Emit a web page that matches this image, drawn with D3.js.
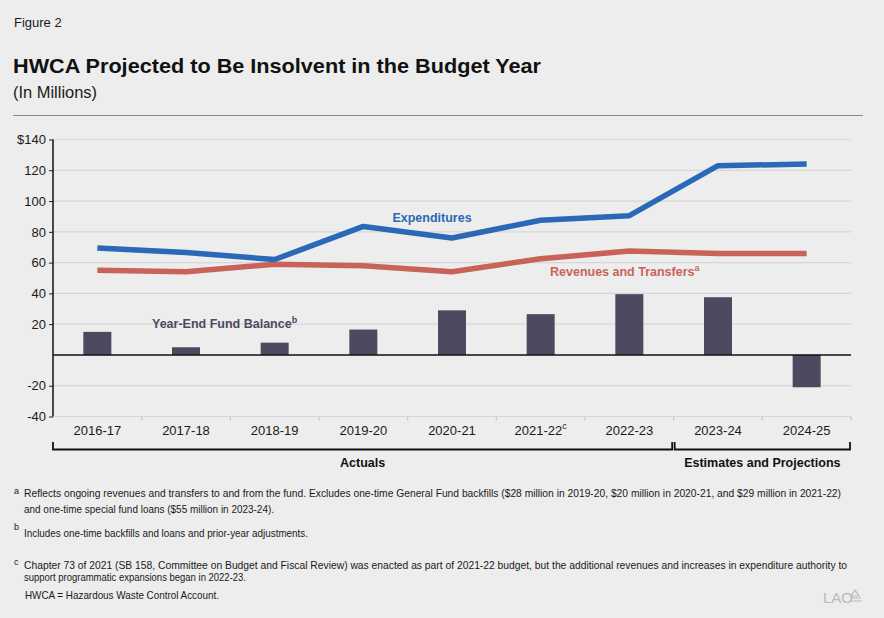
<!DOCTYPE html>
<html><head><meta charset="utf-8">
<script src="https://cdn.jsdelivr.net/npm/d3@7"></script>
<style>
body{margin:0;background:#ecedec}
svg{display:block}
text{font-family:"Liberation Sans",Arial,Helvetica,sans-serif}
</style>
</head><body><svg id="c" width="884" height="618"></svg>
<script>
const categories = ["2016-17","2017-18","2018-19","2019-20","2020-21","2021-22","2022-23","2023-24","2024-25"];
const categorySup = ["","","","","","c","","",""];
const expenditures = [69.5, 66.5, 62, 83.5, 76, 87.5, 90.5, 123, 124];
const revenues = [55, 54, 59, 58, 54, 62.5, 67.5, 66, 66];
const fundBalance = [15, 5, 8, 16.5, 29, 26.5, 39.5, 37.5, -21];
const yTicks = [-40, -20, 0, 20, 40, 60, 80, 100, 120, 140];
const groups = [{label:"Actuals", from:0, to:6}, {label:"Estimates and Projections", from:7, to:8}];

const svg = d3.select("#c");
svg.append("rect").attr("width",884).attr("height",618).attr("fill","#ecedec");

// Header
svg.append("text").attr("x",14).attr("y",27).attr("font-size",13).attr("fill","#1a1a1a").text("Figure 2");
svg.append("text").attr("x",13).attr("y",73).attr("font-size",21).attr("font-weight","bold").attr("fill","#111")
  .attr("textLength",528).attr("lengthAdjust","spacingAndGlyphs")
  .text("HWCA Projected to Be Insolvent in the Budget Year");
svg.append("text").attr("x",13).attr("y",98).attr("font-size",16).attr("fill","#1a1a1a")
  .attr("textLength",84).attr("lengthAdjust","spacingAndGlyphs").text("(In Millions)");
svg.append("line").attr("x1",13).attr("x2",863).attr("y1",115.5).attr("y2",115.5).attr("stroke","#8a8a8a").attr("stroke-width",1);

const x = d3.scaleBand().domain(categories).range([53, 851]).padding(0);
const y = d3.scaleLinear().domain([-40, 140]).range([416.5, 139.5]);

// gridlines
svg.append("g").selectAll("line").data(yTicks.filter(d=>d!==0)).join("line")
  .attr("x1",53).attr("x2",851).attr("y1",d=>y(d)).attr("y2",d=>y(d))
  .attr("stroke","#d6d7d6").attr("stroke-width",1.2);

// y axis
const yAxis = d3.axisLeft(y).tickValues(yTicks.filter(d=>d!==0)).tickSize(4).tickPadding(3)
  .tickFormat(d => d===140 ? "$140" : String(d));
const ya = svg.append("g").attr("transform","translate(53,0)").call(yAxis);
ya.select(".domain").remove();
ya.selectAll(".tick line").attr("stroke","#222");
ya.selectAll(".tick text").attr("font-size",13).attr("fill","#1a1a1a").attr("font-family",'"Liberation Sans",Arial,sans-serif');
svg.append("line").attr("x1",53).attr("x2",53).attr("y1",y(140)).attr("y2",y(-40)).attr("stroke","#111").attr("stroke-width",1.5);

// x axis ticks (gray, at band boundaries)
const xa = svg.append("g");
const bounds = categories.map((c)=>x(c)).concat([x.range()[1]]);
xa.selectAll("line").data(bounds.slice(1)).join("line")
  .attr("x1",d=>d).attr("x2",d=>d).attr("y1",y(-40)).attr("y2",y(-40)+4)
  .attr("stroke","#c8c8c8").attr("stroke-width",1.2);
const xl = xa.selectAll("text.cat").data(categories).join("text").attr("class","cat")
  .attr("x",d=>x(d)+x.bandwidth()/2).attr("y",435).attr("text-anchor","middle")
  .attr("font-size",13).attr("fill","#1a1a1a");
xl.each(function(d,i){
  const t = d3.select(this);
  t.append("tspan").text(d);
  if (categorySup[i]) t.append("tspan").attr("dy",-6).attr("font-size",9).text(categorySup[i]);
});

// bars
const bw = 28;
svg.append("g").selectAll("rect").data(fundBalance).join("rect")
  .attr("x",(d,i)=>x(categories[i])+x.bandwidth()/2-bw/2)
  .attr("width",bw)
  .attr("y",d=>y(Math.max(0,d)))
  .attr("height",d=>Math.abs(y(d)-y(0)))
  .attr("fill","#4b4a5f");

// zero line
svg.append("line").attr("x1",53).attr("x2",851).attr("y1",y(0)).attr("y2",y(0)).attr("stroke","#111").attr("stroke-width",1.6);

// lines
const line = d3.line().x((d,i)=>x(categories[i])+x.bandwidth()/2).y(d=>y(d));
svg.append("path").datum(revenues).attr("d",line).attr("fill","none").attr("stroke","#c9635a").attr("stroke-width",5.5).attr("stroke-linejoin","round");
svg.append("path").datum(expenditures).attr("d",line).attr("fill","none").attr("stroke","#2a68b8").attr("stroke-width",5.5).attr("stroke-linejoin","round");

// series labels
svg.append("text").attr("x",432).attr("y",222).attr("text-anchor","middle").attr("font-size",12.5).attr("font-weight","bold").attr("fill","#2a68b8").text("Expenditures");
const rl = svg.append("text").attr("x",550).attr("y",276).attr("font-size",12.5).attr("font-weight","bold").attr("fill","#c9635a");
rl.append("tspan").text("Revenues and Transfers");
rl.append("tspan").attr("dy",-5).attr("font-size",9).text("a");
const bl = svg.append("text").attr("x",152).attr("y",328).attr("font-size",12.5).attr("font-weight","bold").attr("fill","#4b4a5f");
bl.append("tspan").text("Year-End Fund Balance");
bl.append("tspan").attr("dy",-5).attr("font-size",9).text("b");

// group brackets
const gb = svg.append("g");
groups.forEach((g,gi)=>{
  const x0 = x(categories[g.from]) + (gi===0?0:1);
  const x1 = x(categories[g.to]) + x.bandwidth() - (gi===0?1.5:1);
  gb.append("path").attr("d",`M${x0},442V449.5H${x1}V442`).attr("fill","none").attr("stroke","#111").attr("stroke-width",1.8);
  gb.append("text").attr("x",(x0+x1)/2).attr("y",467).attr("text-anchor","middle").attr("font-size",12.5).attr("font-weight","bold").attr("fill","#111").text(g.label);
});

// footnotes
const fn = svg.append("g").attr("fill","#1a1a1a");
function sup(t, xx, yy){ fn.append("text").attr("x",xx).attr("y",yy).attr("font-size",9).text(t); }
function note(t, xx, yy, len){ const e = fn.append("text").attr("x",xx).attr("y",yy).attr("font-size",10.5).text(t); if(len) e.attr("textLength",len).attr("lengthAdjust","spacingAndGlyphs"); }
sup("a",14,494);
note("Reflects ongoing revenues and transfers to and from the fund. Excludes one-time General Fund backfills ($28 million in 2019-20, $20 million in 2020-21, and $29 million in 2021-22)",24,497,817);
note("and one-time special fund loans ($55 million in 2023-24).",24,513,250);
sup("b",14,530);
note("Includes one-time backfills and loans and prior-year adjustments.",24,537,284);
sup("c",14,565);
note("Chapter 73 of 2021 (SB 158, Committee on Budget and Fiscal Review) was enacted as part of 2021-22 budget, but the additional revenues and increases in expenditure authority to",24,569,823);
note("support programmatic expansions began in 2022-23.",24,581,222);
note("HWCA =  Hazardous Waste Control Account.",25,599,194);

// logo
svg.append("text").attr("x",823).attr("y",603).attr("font-family","'Liberation Serif',serif").attr("font-size",15).attr("fill","#b9bab9").text("LAO");
svg.append("path").attr("d","M855,590 l4,6 h-8 z M850,598 h11 M849,601 h13").attr("fill","none").attr("stroke","#b9bab9").attr("stroke-width",1.2);
</script>
</body></html>
